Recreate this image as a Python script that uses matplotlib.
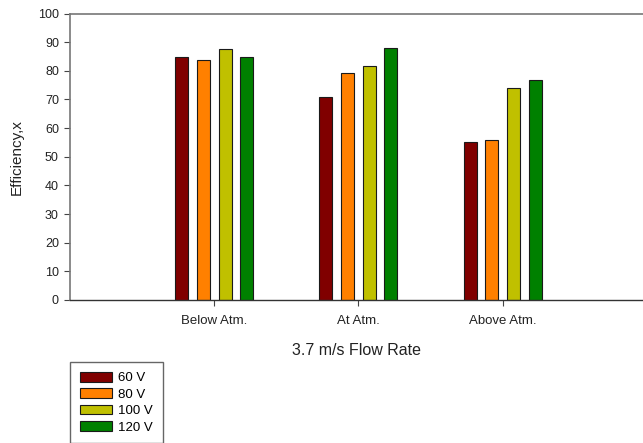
import matplotlib
matplotlib.use("Agg")
import matplotlib.pyplot as plt
import numpy as np

plt.rcParams['font.family'] = ['Liberation Sans', 'DejaVu Sans']

# pressure conditions on the x axis
conditions = ['Below Atm.', 'At Atm.', 'Above Atm.']

# efficiency per applied voltage
voltages = ['60 V', '80 V', '100 V', '120 V']
eff_60v = [84.8, 70.9, 55.2]
eff_80v = [83.7, 79.4, 56.0]
eff_100v = [87.7, 81.7, 74.1]
eff_120v = [84.8, 87.8, 76.7]

colors = ['#800000', '#ff8000', '#c0c000', '#008000']


def main():
    fig = plt.figure(figsize=(6.43, 4.43), dpi=100)
    ax = fig.add_axes([70 / 643, 1 - 300 / 443, 1 - 70 / 643, (300 - 13.5) / 443])

    x = np.arange(1, len(conditions) + 1)
    width = 0.09
    step = 0.15
    series = [eff_60v, eff_80v, eff_100v, eff_120v]
    for i, (vals, lab, col) in enumerate(zip(series, voltages, colors)):
        offset = (i - 1.5) * step
        ax.bar(x + offset, vals, width, color=col, edgecolor='#1a1a1a',
               linewidth=0.8, label=lab)

    ax.set_xlim(0, 573 / 144.2)
    ax.set_ylim(0, 100)
    ax.set_yticks(np.arange(0, 101, 10))
    ax.set_xticks(x)
    ax.set_xticklabels(conditions, fontsize=9.5, color='#222222')
    ax.tick_params(axis='y', labelsize=9, labelcolor='#222222', length=4.5,
                   width=0.8, color='#444444')
    ax.tick_params(axis='x', length=4, width=0.8, color='#444444', pad=7)

    ax.spines['right'].set_visible(False)
    for side in ['left', 'top']:
        ax.spines[side].set_color('#777777')
        ax.spines[side].set_linewidth(1.2)
    ax.spines['bottom'].set_color('#333333')
    ax.spines['bottom'].set_linewidth(1.0)

    ax.set_ylabel('Efficiency,x', fontsize=11, color='#222222', labelpad=10)
    ax.set_xlabel('3.7 m/s Flow Rate', fontsize=11.5, color='#222222', labelpad=11)

    leg = fig.legend(loc='upper left', bbox_to_anchor=(70 / 643, 1 - 362 / 443),
                     borderaxespad=0, fontsize=9.5, handlelength=2.4,
                     handleheight=0.75, handletextpad=0.5, labelspacing=0.3,
                     borderpad=0.75, fancybox=False, framealpha=1)
    leg.get_frame().set_edgecolor('#666666')
    leg.get_frame().set_linewidth(1.0)

    fig.savefig('out.png', dpi=100)


if __name__ == '__main__':
    main()
